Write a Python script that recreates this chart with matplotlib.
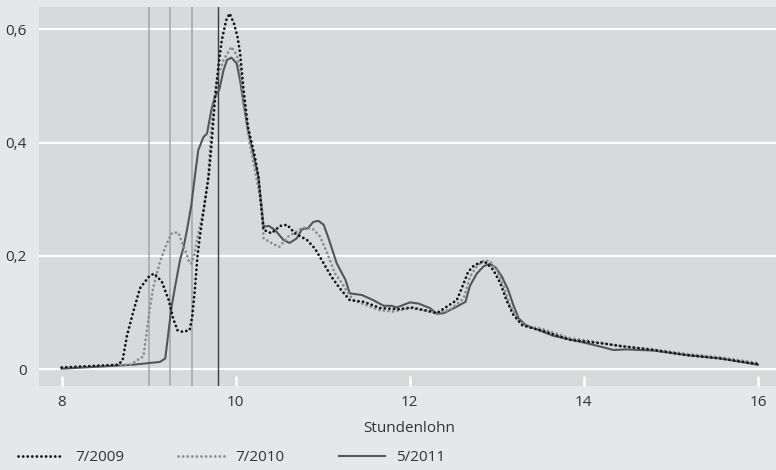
import matplotlib
matplotlib.use('Agg')
import matplotlib.pyplot as plt
from matplotlib.ticker import FuncFormatter

plt.rcParams['font.family'] = ['Open Sans', 'DejaVu Sans']

# Dichte der Stundenlöhne
x_2009 = [8.0, 8.65, 8.70, 8.75, 8.82, 8.90, 9.0, 9.06, 9.15, 9.23, 9.28, 9.33, 9.39,
          9.47, 9.50, 9.53, 9.56, 9.59, 9.69, 9.72, 9.76, 9.80, 9.84, 9.89, 9.93, 9.98,
          10.02, 10.05, 10.09, 10.14, 10.22, 10.26, 10.30, 10.32, 10.41, 10.51, 10.59,
          10.68, 10.82, 10.91, 11.01, 11.10, 11.20, 11.31, 11.47, 11.66, 11.87, 12.02,
          12.21, 12.31, 12.42, 12.54, 12.62, 12.67, 12.73, 12.81, 12.88, 12.96, 13.04,
          13.11, 13.19, 13.29, 13.42, 13.50, 13.84, 14.19, 14.42, 14.80, 15.18, 15.57, 16.0]
y_2009 = [0.003, 0.008, 0.016, 0.059, 0.100, 0.143, 0.163, 0.169, 0.155, 0.122, 0.090, 0.069, 0.066,
          0.069, 0.093, 0.140, 0.199, 0.237, 0.343, 0.393, 0.475, 0.534, 0.581, 0.616, 0.628, 0.610,
          0.587, 0.558, 0.493, 0.428, 0.375, 0.340, 0.275, 0.246, 0.240, 0.253, 0.255,
          0.240, 0.228, 0.213, 0.187, 0.163, 0.142, 0.122, 0.119, 0.108, 0.106, 0.109,
          0.103, 0.099, 0.110, 0.122, 0.152, 0.172, 0.182, 0.189, 0.188, 0.175, 0.152,
          0.122, 0.096, 0.078, 0.072, 0.069, 0.052, 0.046, 0.041, 0.034, 0.025, 0.019, 0.009]

x_2010 = [8.0, 8.79, 8.94, 8.97, 9.01, 9.05, 9.13, 9.20, 9.26, 9.28, 9.34, 9.42, 9.47,
          9.49, 9.52, 9.57, 9.63, 9.68, 9.72, 9.78, 9.86, 9.95, 10.01, 10.05, 10.09, 10.16,
          10.30, 10.32, 10.43, 10.50, 10.60, 10.70, 10.77, 10.89, 10.97, 11.05, 11.14,
          11.22, 11.28, 11.35, 11.66, 11.81, 12.02, 12.31, 12.46, 12.62, 12.69, 12.77,
          12.85, 12.92, 13.0, 13.08, 13.15, 13.25, 13.34, 13.50, 13.84, 14.19, 14.42,
          14.80, 15.18, 15.57, 16.0]
y_2010 = [0.003, 0.008, 0.023, 0.058, 0.105, 0.143, 0.190, 0.219, 0.239, 0.241, 0.241, 0.210, 0.187,
          0.187, 0.200, 0.240, 0.281, 0.330, 0.430, 0.510, 0.546, 0.569, 0.555, 0.531, 0.475, 0.399,
          0.287, 0.231, 0.221, 0.216, 0.234, 0.243, 0.250, 0.247, 0.234, 0.205, 0.169,
          0.152, 0.137, 0.122, 0.104, 0.102, 0.108, 0.099, 0.105, 0.125, 0.163, 0.182,
          0.192, 0.191, 0.175, 0.146, 0.113, 0.087, 0.075, 0.072, 0.055, 0.047, 0.041,
          0.035, 0.027, 0.021, 0.011]

x_2011 = [8.0, 8.82, 9.01, 9.13, 9.19, 9.23, 9.26, 9.30, 9.36, 9.40, 9.44, 9.49, 9.53,
          9.57, 9.63, 9.67, 9.72, 9.76, 9.81, 9.86, 9.90, 9.95, 10.01, 10.05, 10.09, 10.14,
          10.20, 10.26, 10.30, 10.32, 10.38, 10.45, 10.55, 10.62, 10.70, 10.76, 10.83,
          10.89, 10.95, 11.01, 11.06, 11.16, 11.26, 11.31, 11.45, 11.58, 11.70, 11.79,
          11.85, 12.0, 12.10, 12.23, 12.31, 12.39, 12.52, 12.64, 12.69, 12.77, 12.85,
          12.92, 12.99, 13.06, 13.13, 13.19, 13.25, 13.33, 13.38, 13.65, 14.03, 14.19,
          14.34, 14.49, 14.80, 15.18, 15.57, 16.0]
y_2011 = [0.001, 0.008, 0.011, 0.013, 0.019, 0.069, 0.108, 0.143, 0.193, 0.215, 0.246, 0.290, 0.340,
          0.387, 0.410, 0.416, 0.458, 0.481, 0.493, 0.528, 0.546, 0.550, 0.540, 0.510, 0.469, 0.422,
          0.381, 0.340, 0.281, 0.252, 0.253, 0.246, 0.228, 0.223, 0.231, 0.247, 0.249,
          0.260, 0.262, 0.255, 0.234, 0.187, 0.158, 0.134, 0.131, 0.122, 0.112, 0.112,
          0.109, 0.118, 0.116, 0.108, 0.098, 0.099, 0.109, 0.119, 0.147, 0.169, 0.182,
          0.186, 0.179, 0.163, 0.140, 0.113, 0.090, 0.078, 0.075, 0.059, 0.046, 0.040,
          0.034, 0.035, 0.033, 0.025, 0.019, 0.008]

mindestlohn_grau = [9.0, 9.25, 9.5]
mindestlohn_dunkel = 9.8
x_ticks = [8, 10, 12, 14, 16]
y_ticks = [0, 0.2, 0.4, 0.6]

fig = plt.figure(figsize=(7.76, 4.70), dpi=100, facecolor='#e6e7e9')
ax = fig.add_axes([0.0503, 0.1794, 0.9497, 0.8057])
ax.set_facecolor('#d8d9db')

for v in mindestlohn_grau:
    ax.axvline(v, color='#a3a4a6', lw=1.1, zorder=1)
ax.axvline(mindestlohn_dunkel, color='#3a3a3a', lw=1.0, zorder=1)

dots = (0, (0.05, 1.6))
l1, = ax.plot(x_2009, y_2009, color='#151515', lw=2.0, linestyle=dots,
              dash_capstyle='round', zorder=4, label='7/2009')
l2, = ax.plot(x_2010, y_2010, color='#8d8d8f', lw=2.0, linestyle=dots,
              dash_capstyle='round', zorder=3, label='7/2010')
l3, = ax.plot(x_2011, y_2011, color='#555557', lw=1.5, zorder=2, label='5/2011')

ax.set_xlim(7.74, 16.207)
ax.set_ylim(-0.029, 0.6394)
ax.set_xticks(x_ticks)
ax.set_yticks(y_ticks)
ax.yaxis.set_major_formatter(FuncFormatter(lambda v, p: ('%g' % v).replace('.', ',')))
ax.grid(axis='y', color='white', lw=1.5)
ax.set_axisbelow(True)
ax.tick_params(axis='x', direction='in', color='white', width=1.8, length=7,
               pad=7, labelsize=11, labelcolor='#333333')
ax.tick_params(axis='y', length=0, pad=9, labelsize=11, labelcolor='#333333')
for s in ax.spines.values():
    s.set_visible(False)

fig.text(0.527, 0.089, 'Stundenlohn', ha='center', va='center', fontsize=11, color='#333333')

fig.legend(handles=[l1, l2, l3], loc='center left', bbox_to_anchor=(0.005, 0.026),
           ncol=3, frameon=False, fontsize=11, handlelength=3.0, handletextpad=0.75,
           columnspacing=3.55, labelcolor='#333333')

fig.savefig('out.png', dpi=100, facecolor=fig.get_facecolor())
